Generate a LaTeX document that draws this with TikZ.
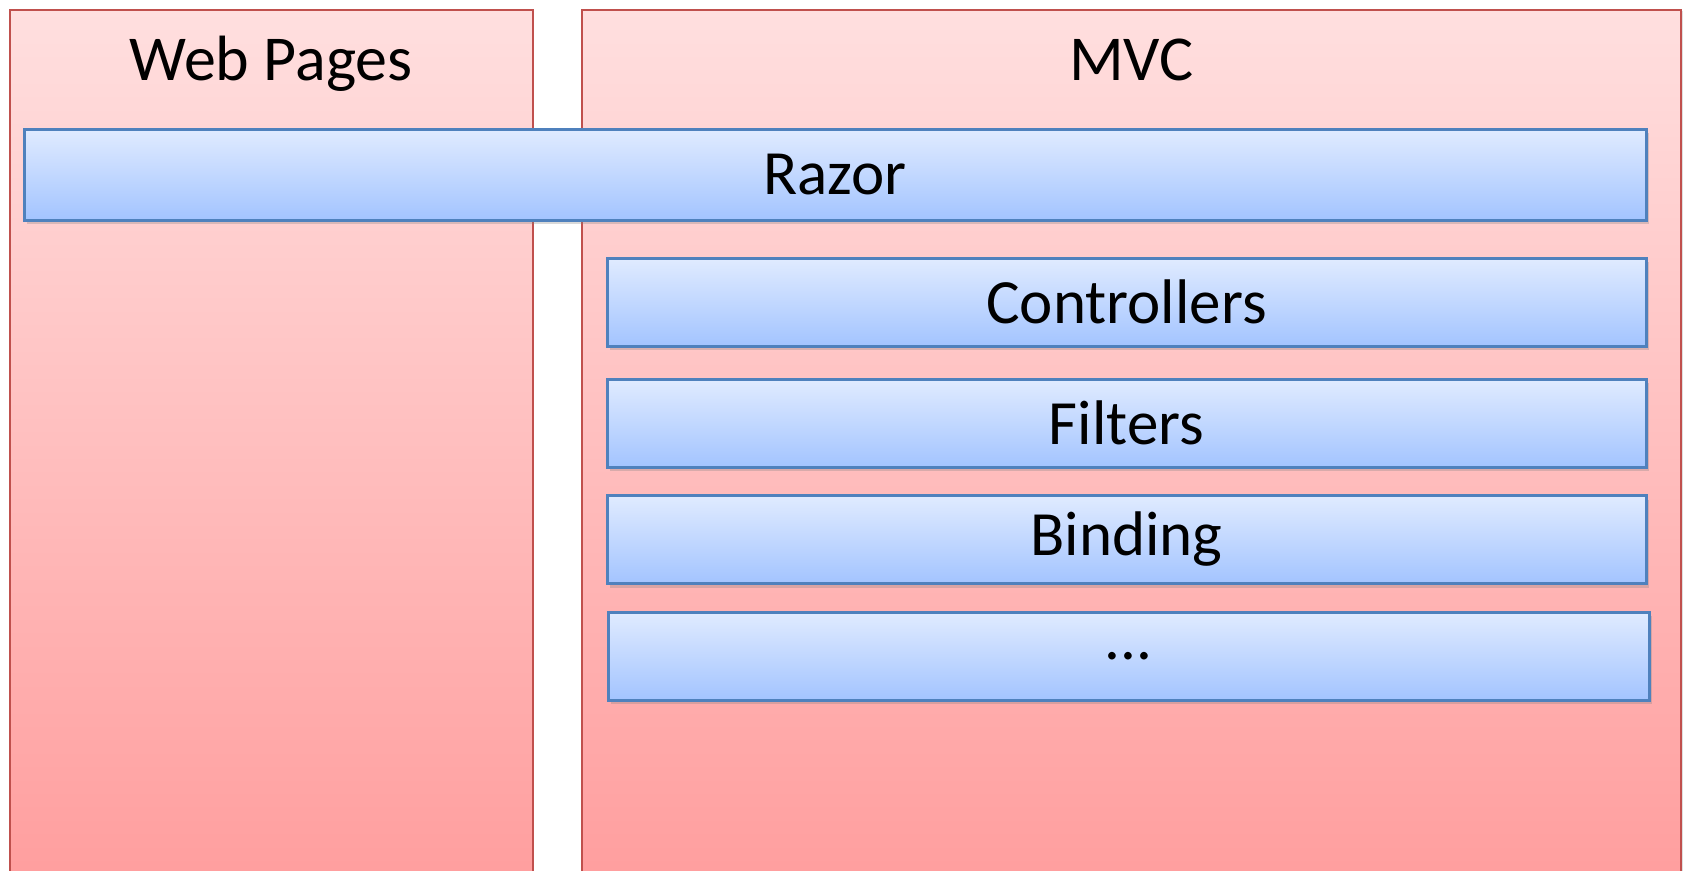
\documentclass[tikz,border=0pt]{standalone}
\usepackage{fontspec}
\setmainfont{Carlito}
\usetikzlibrary{positioning}
\usetikzlibrary{calc}
\usetikzlibrary{shadows}
\definecolor{panelline}{RGB}{192,80,77}
\definecolor{paneltop}{RGB}{255,223,223}
\definecolor{panelbot}{RGB}{255,158,158}
\definecolor{layerline}{RGB}{79,129,189}
\definecolor{layertop}{RGB}{224,235,255}
\definecolor{layerbot}{RGB}{163,196,255}

\begin{document}
\begin{tikzpicture}[x=1pt, y=-1pt,
		panel/.style = {draw=panelline, line width=2pt, top color=paneltop, bottom color=panelbot,
			minimum height=871pt, inner sep=0pt, anchor=north west,
			drop shadow={shadow xshift=1.5pt, shadow yshift=-1.5pt, opacity=0.25}},
		title/.style = {font=\fontsize{64}{70}\selectfont, inner sep=0pt, anchor=base},
		layer/.style = {draw=layerline, line width=3pt, top color=layertop, bottom color=layerbot,
			minimum height=88pt, inner sep=0pt, font=\fontsize{63}{68}\selectfont,
			drop shadow={shadow xshift=3pt, shadow yshift=-4pt, opacity=0.3}}]
	\clip (0,0) rectangle (1683,870);
	% the two frameworks
	\node[panel, minimum width=523pt] (wp) at (8.6,8.6) {};
	\node[panel, minimum width=1099pt] (mvc) at (581,8.6) {};
	\node[title] (wpt) at ($(wp.north)+(0,72)$) {Web Pages};
	\node[title] (mvct) at ($(mvc.north)+(0,72)$) {MVC};
	% shared layer
	\node[layer, minimum width=1622pt, minimum height=91pt] (razor) at (835,174.5) {Razor};
	% mvc layers
	\node[layer, minimum width=1039pt] (ctrl) at (1126.5,302) {Controllers};
	\node[layer, minimum width=1039pt] (filt) at (1126.5,423) {Filters};
	\node[layer, minimum width=1039pt] (bind) at (1126.5,539.5) {Binding};
	\node[layer, minimum width=1041pt] (more) at (1128.5,656) {...};
\end{tikzpicture}
\end{document}
